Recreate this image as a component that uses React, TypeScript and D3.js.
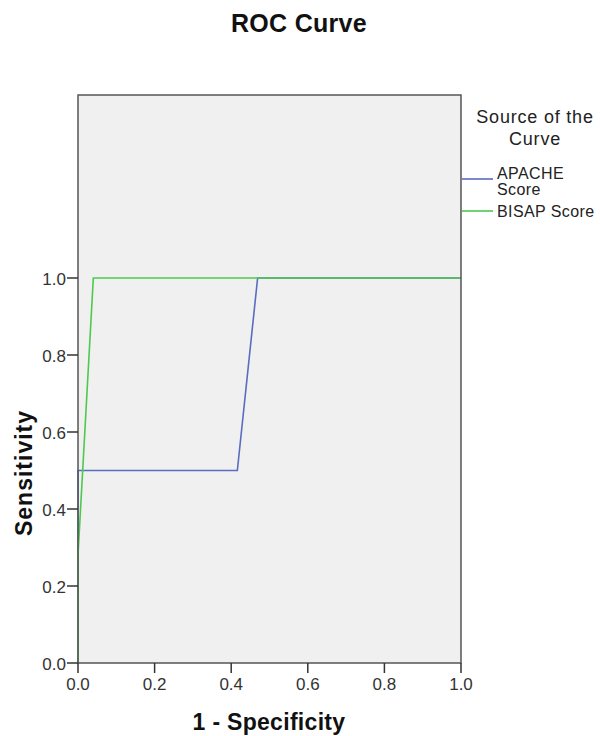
import React from 'react'
import * as d3 from 'd3'

// ROC points (1 - specificity, sensitivity)
const apacheFpr = [0, 0, 0.416, 0.469, 1]
const apacheTpr = [0, 0.5, 0.5, 1, 1]
const bisapFpr = [0, 0, 0.04, 1]
const bisapTpr = [0, 0.28, 1, 1]

const tickValues = [0, 0.2, 0.4, 0.6, 0.8, 1.0]
const seriesNames = ['APACHE Score', 'BISAP Score']
const seriesColors = ['#5a6cc0', '#4dc94d']

const W = 600
const H = 736
const margin = {left: 78, top: 95, right: 461, bottom: 663}
const font = '"Liberation Sans", Arial, sans-serif'

export default function App() {
  const x = d3.scaleLinear().domain([0, 1]).range([margin.left, margin.right])
  // the frame extends above 1.0 like SPSS does
  const y = d3.scaleLinear().domain([0, 1]).range([margin.bottom, 278])

  const line = d3
    .line<[number, number]>()
    .x((d) => x(d[0]))
    .y((d) => y(d[1]))

  const series = [
    d3.zip(apacheFpr, apacheTpr) as [number, number][],
    d3.zip(bisapFpr, bisapTpr) as [number, number][],
  ]

  return (
    <svg
      width={W}
      height={H}
      style={{position: 'absolute', left: 0, top: 0}}
      fontFamily={font}
    >
      <rect width={W} height={H} fill="#fff" />
      <text x={299} y={32} textAnchor="middle" fontSize={25} fontWeight="bold" fill="#111" letterSpacing={0.3}>
        ROC Curve
      </text>

      <rect
        x={margin.left}
        y={margin.top}
        width={margin.right - margin.left}
        height={margin.bottom - margin.top}
        fill="#f0f0f0"
      />

      {series.map((pts, i) => (
        <path key={i} d={line(pts) ?? ''} fill="none" stroke={seriesColors[i]} strokeWidth={1.6} />
      ))}

      <rect
        x={margin.left}
        y={margin.top}
        width={margin.right - margin.left}
        height={margin.bottom - margin.top}
        fill="none"
        stroke="#555"
        strokeWidth={1.5}
      />

      {tickValues.map((t) => (
        <g key={'y' + t}>
          <line x1={margin.left - 11} x2={margin.left} y1={y(t)} y2={y(t)} stroke="#333" strokeWidth={1.5} />
          <text x={margin.left - 12} y={y(t) + 6.5} textAnchor="end" fontSize={17} fill="#333">
            {d3.format('.1f')(t)}
          </text>
        </g>
      ))}
      {tickValues.map((t) => (
        <g key={'x' + t}>
          <line x1={x(t)} x2={x(t)} y1={margin.bottom} y2={margin.bottom + 10} stroke="#333" strokeWidth={1.5} />
          <text x={x(t)} y={margin.bottom + 27} textAnchor="middle" fontSize={17} fill="#333">
            {d3.format('.1f')(t)}
          </text>
        </g>
      ))}

      <text x={269} y={730} textAnchor="middle" fontSize={23} fontWeight="bold" fill="#111" letterSpacing={0.3}>
        1 - Specificity
      </text>
      <text
        transform={`translate(32, 473) rotate(-90)`}
        textAnchor="middle"
        fontSize={23}
        fontWeight="bold"
        fill="#111"
        letterSpacing={1}
      >
        Sensitivity
      </text>

      <text x={535} y={123} textAnchor="middle" fontSize={18} fill="#222" letterSpacing={0.8}>
        Source of the
      </text>
      <text x={535} y={145} textAnchor="middle" fontSize={18} fill="#222" letterSpacing={0.8}>
        Curve
      </text>
      <line x1={462} x2={493} y1={179} y2={179} stroke={seriesColors[0]} strokeWidth={1.6} />
      <text x={497} y={179} fontSize={16} fill="#222" letterSpacing={0.4}>
        {seriesNames[0].split(' ')[0]}
      </text>
      <text x={497} y={195} fontSize={16} fill="#222" letterSpacing={0.4}>
        {seriesNames[0].split(' ')[1]}
      </text>
      <line x1={462} x2={493} y1={211} y2={211} stroke={seriesColors[1]} strokeWidth={1.6} />
      <text x={497} y={217} fontSize={16} fill="#222" letterSpacing={0.4}>
        {seriesNames[1]}
      </text>
    </svg>
  )
}
